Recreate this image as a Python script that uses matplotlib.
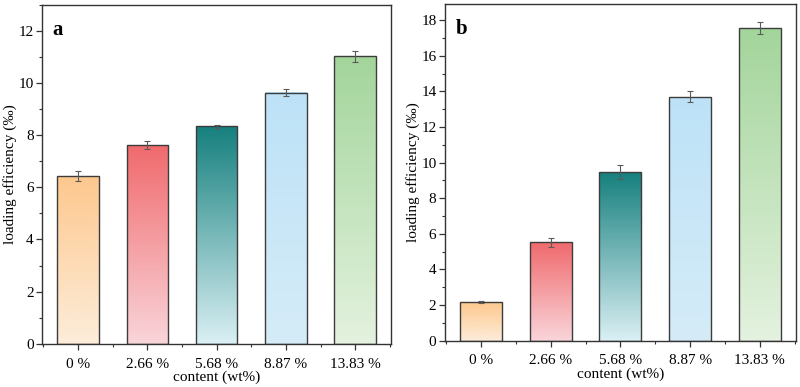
import numpy as np
import matplotlib.pyplot as plt
from matplotlib.colors import to_rgb
from matplotlib.ticker import MultipleLocator, AutoMinorLocator

plt.rcParams['font.family'] = ['Liberation Serif', 'DejaVu Serif']
plt.rcParams['font.size'] = 11

# data
categories = ['0 %', '2.66 %', '5.68 %', '8.87 %', '13.83 %']
eff_a = [6.43, 7.62, 8.34, 9.64, 11.03]
err_a = [0.20, 0.16, 0.05, 0.15, 0.22]
eff_b = [2.16, 5.53, 9.46, 13.70, 17.56]
err_b = [0.05, 0.25, 0.38, 0.30, 0.33]

# gradient colours (top, bottom)
top_colors = ['#FDC88E', '#F06A6D', '#16807E', '#BDE2F7', '#A3D59B']
bottom_colors = ['#FDEDDA', '#F9D5DA', '#DAF0F4', '#D5ECF8', '#E4F2DF']


def draw_panel(ax, vals, errs, ylim, ystep, letter):
    x = np.arange(len(categories))
    w = 0.6
    for i, v in enumerate(vals):
        c1 = np.array(to_rgb(bottom_colors[i]))
        c2 = np.array(to_rgb(top_colors[i]))
        t = np.linspace(0, 1, 256)[:, None]
        grad = c1 + (c2 - c1) * t
        ax.imshow(grad[:, None, :], extent=[x[i] - w / 2, x[i] + w / 2, 0, v],
                  origin='lower', aspect='auto', zorder=1)
    ax.bar(x, vals, width=w, facecolor='none', edgecolor='#3c3c3c', linewidth=1.0, zorder=2)
    ax.errorbar(x, vals, yerr=errs, fmt='none', ecolor='#5a5a5a', elinewidth=0.8,
                capsize=2.5, capthick=0.8, zorder=3)
    ax.set_xlim(-0.52, 4.52)
    ax.set_ylim(*ylim)
    ax.set_xticks(x)
    ax.set_xticklabels(categories)
    ax.xaxis.set_minor_locator(MultipleLocator(0.5))
    ax.yaxis.set_major_locator(MultipleLocator(ystep))
    ax.yaxis.set_minor_locator(AutoMinorLocator(2))
    ax.tick_params(which='major', direction='out', length=4, width=0.9, color='#333333')
    ax.tick_params(which='minor', direction='out', length=2.5, width=0.8, color='#333333')
    ax.tick_params(axis='x', which='major', pad=6)
    ax.tick_params(axis='y', which='major', pad=2)
    for s in ax.spines.values():
        s.set_color('#333333')
        s.set_linewidth(1.0)
    ax.set_xlabel('content (wt%)', labelpad=0)
    ax.set_ylabel('loading efficiency (‰)', labelpad=1)
    ax.text(0.03, 0.955, letter, transform=ax.transAxes, fontsize=15,
            fontweight='bold', va='top', ha='left')


fig = plt.figure(figsize=(8, 3.87), dpi=100)
ax1 = fig.add_axes([0.0525, 0.112, 0.4365, 0.875])
ax2 = fig.add_axes([0.556, 0.12, 0.439, 0.869])

draw_panel(ax1, eff_a, err_a, (0, 13), 2, 'a')
draw_panel(ax2, eff_b, err_b, (0, 18.9), 2, 'b')

fig.savefig('out.png', dpi=100)
